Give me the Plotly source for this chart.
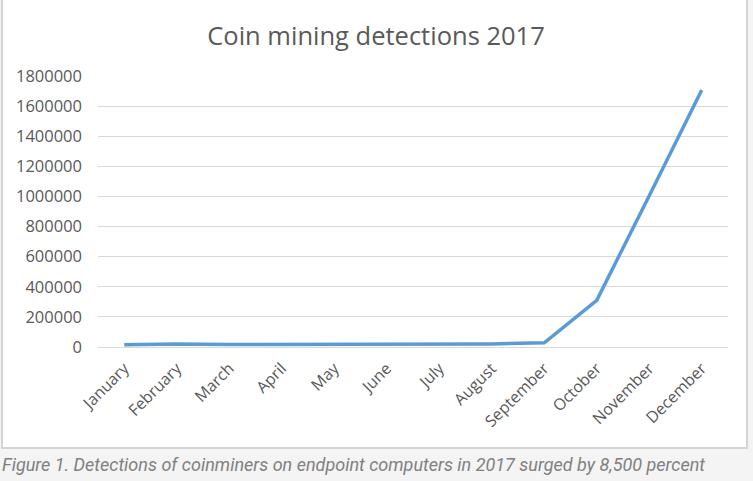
import plotly.graph_objects as go

months = ["January", "February", "March", "April", "May", "June", "July",
          "August", "September", "October", "November", "December"]
detections = [15000, 20000, 16000, 16000, 20000, 20000, 20000, 20000,
              28000, 310000, 1005000, 1707000]
y_ticks = [0, 200000, 400000, 600000, 800000, 1000000, 1200000, 1400000,
           1600000, 1800000]

W, H = 753, 481
L, R, T, B = 98, 25, 76, 134
pw, ph = W - L - R, H - T - B

def px_x(p):
    return (p - L) / pw

def px_y(p):
    return (H - B - p) / ph

fig = go.Figure()
fig.add_trace(go.Scatter(
    x=months, y=detections, mode="lines",
    line=dict(color="#5B9BD5", width=3.5),
    hoverinfo="x+y",
))

fig.update_layout(
    width=W, height=H,
    margin=dict(l=L, r=R, t=T, b=B, autoexpand=False),
    paper_bgcolor="#f4f4f4",
    plot_bgcolor="white",
    showlegend=False,
    title=dict(text="Coin mining detections 2017", xref="container",
               x=376 / W, xanchor="center",
               yref="container", y=1 - 36 / H, yanchor="middle",
               font=dict(family="Open Sans", size=25.5, color="#595959")),
    xaxis=dict(
        type="category", range=[-0.5, 11.5],
        tickangle=-45, ticks="", showgrid=False,
        showline=False, zeroline=False,
        tickfont=dict(family="Open Sans", size=16, color="#595959"),
        ticklabelstandoff=8,
    ),
    yaxis=dict(
        range=[0, 1800000], tickvals=y_ticks,
        ticktext=[str(v) for v in y_ticks],
        showgrid=True, gridcolor="#d9d9d9", gridwidth=1,
        zeroline=True, zerolinecolor="#d9d9d9", zerolinewidth=1,
        showline=False, ticks="",
        tickfont=dict(family="Open Sans", size=16.5, color="#595959"),
        ticklabelstandoff=15,
    ),
    shapes=[dict(
        type="rect", xref="paper", yref="paper", layer="below",
        x0=px_x(2), x1=px_x(747), y0=px_y(448), y1=px_y(-5),
        fillcolor="white", line=dict(color="#d4d4d4", width=2),
    )],
    annotations=[dict(
        text="Figure 1. Detections of coinminers on endpoint computers in 2017 surged by 8,500 percent",
        xref="paper", yref="paper", x=px_x(0), y=px_y(465),
        xanchor="left", yanchor="middle", showarrow=False,
        font=dict(family="Roboto", size=18, color="#808080", style="italic"),
    )],
)

fig.write_html("out.html", config={"displayModeBar": False},
               post_script="document.body.style.margin='0px';document.body.style.overflow='hidden';")
